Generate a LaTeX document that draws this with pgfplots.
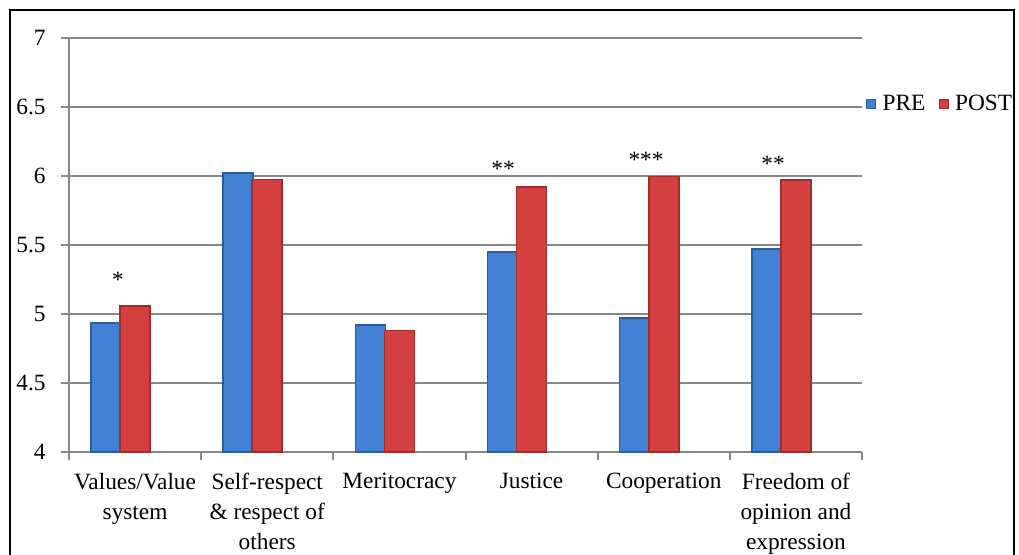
\documentclass[border=0pt]{standalone}
\usepackage{fontspec}
\setmainfont{Liberation Serif}
\usepackage{pgfplots}
\pgfplotsset{compat=1.18}

\definecolor{gridgray}{HTML}{878787}
\definecolor{preC}{HTML}{4281D3}
\definecolor{preD}{HTML}{2C5E9F}
\definecolor{postC}{HTML}{D43F3F}
\definecolor{postD}{HTML}{A02C2C}

% values
\pgfplotstableread{
x pre post
0 4.935 5.06
1 6.02 5.975
2 4.92 4.88
3 5.45 5.92
4 4.97 5.995
5 5.47 5.97
}\scores

\begin{document}
\fontsize{17.5pt}{22.5pt}\selectfont
\begin{tikzpicture}[x=1pt,y=1pt]
\useasboundingbox (0,0) rectangle (764.25,-416.25);
\draw[line width=1.1pt] (7.5,-7.5) rectangle (760.5,-440);
\begin{axis}[
  at={(51.75pt,-339pt)}, anchor=south west,
  scale only axis, width=594.75pt, height=310.5pt,
  xmin=-0.5, xmax=5.5, ymin=4, ymax=7,
  axis x line*=bottom, axis y line*=left,
  axis line style={gridgray, line width=1.8pt},
  ytick={4,4.5,...,7},
  ymajorgrids, grid style={gridgray, line width=1.8pt},
  tick align=outside, major tick length=6pt,
  tick style={gridgray, line width=1.5pt},
  xtick={-0.5,0.5,...,5.5}, xticklabels={},
  extra x ticks={0,1,2,3,4,5},
  extra x tick labels={Values/Value\\system, Self-respect\\\& respect of\\others, Meritocracy, Justice, Cooperation, Freedom of\\opinion and\\expression},
  extra x tick style={major tick length=0pt, grid=none,
    tick label style={align=center, font=\fontsize{17.5pt}{22.5pt}\selectfont, yshift=-10pt}},
  y tick label style={font=\fontsize{17.5pt}{20pt}\selectfont, xshift=-5.5pt},
  /pgf/number format/assume math mode=true,
  ybar, bar width=0.227,
  legend style={at={(1.005,0.84)}, anchor=west, draw=none, fill=none,
    legend columns=2, inner sep=0pt,
    font=\fontsize{17.5pt}{20pt}\selectfont,
    /tikz/every odd column/.append style={column sep=3pt},
    /tikz/every even column/.append style={column sep=8pt}},
  legend cell align=left,
  legend image code/.code={\path[#1, line width=0.5pt] (0pt,-3.4pt) rectangle (6.8pt,3.4pt);},
  clip=false,
]
\addplot[bar shift=-0.22, draw=preD, line width=1.2pt, fill=preC]
  table[x=x, y=pre] {\scores};
\addplot[bar shift=0, draw=postD, line width=1.2pt, fill=postC]
  table[x=x, y=post] {\scores};
\legend{PRE, POST}
\node[anchor=base, font=\fontsize{17.5pt}{20pt}\selectfont] at (axis cs:-0.129,5.19) {*};
\node[anchor=base, font=\fontsize{17.5pt}{20pt}\selectfont] at (axis cs:2.784,6.0) {**};
\node[anchor=base, font=\fontsize{17.5pt}{20pt}\selectfont] at (axis cs:3.866,6.058) {***};
\node[anchor=base, font=\fontsize{17.5pt}{20pt}\selectfont] at (axis cs:4.827,6.03) {**};
\end{axis}
\end{tikzpicture}
\end{document}
